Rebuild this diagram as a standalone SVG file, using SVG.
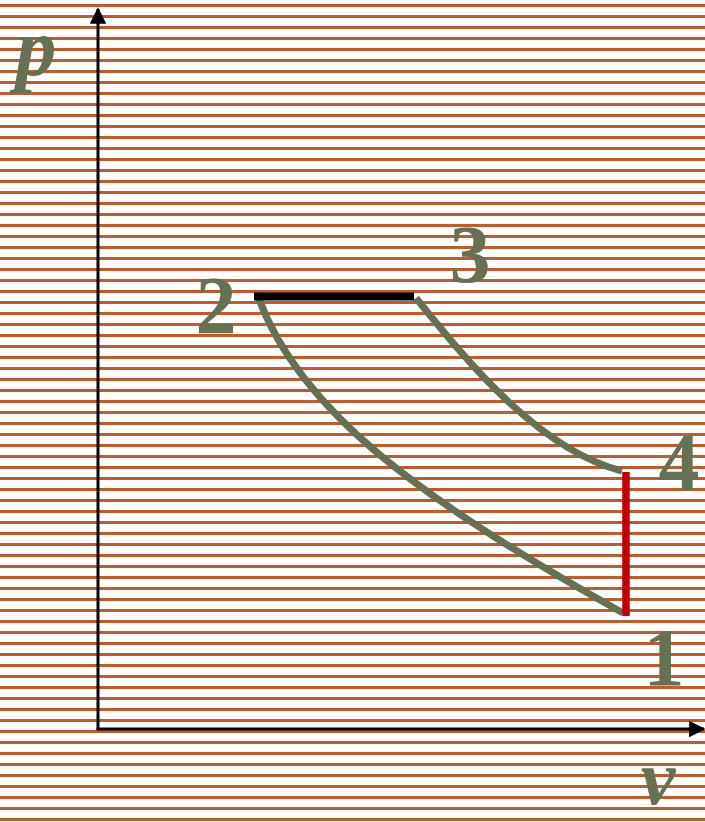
<svg xmlns="http://www.w3.org/2000/svg" width="705" height="822" viewBox="0 0 705 822">
<defs>
<pattern id="stripes" x="0" y="4" width="705" height="11" patternUnits="userSpaceOnUse">
<rect x="0" y="0" width="705" height="3" fill="#C45A2A"/>
</pattern>
<marker id="arr" viewBox="0 0 10 10" refX="9" refY="5" markerWidth="6" markerHeight="5.5" orient="auto" markerUnits="strokeWidth">
<path d="M0,0 L10,5 L0,10 z" fill="#000"/>
</marker>
<style>
.lbl{font-family:"Liberation Serif","Times New Roman",serif;font-weight:bold;fill:#667052;font-size:82px;text-anchor:middle}
.it{font-style:italic}
.curve{fill:none;stroke:#667052;stroke-width:7}
</style>
</defs>
<rect width="705" height="822" fill="#fff"/>
<rect width="705" height="822" fill="url(#stripes)"/>
<g id="connectors">
<line x1="98" y1="730" x2="98" y2="9" stroke="#000" stroke-width="3" marker-end="url(#arr)"/>
<line x1="96.5" y1="729" x2="704" y2="729" stroke="#000" stroke-width="3" marker-end="url(#arr)"/>
<path class="curve" d="M259,299 C300,410 420,500 623,613"/>
<path class="curve" d="M416,298 C470,365 540,450 622,471"/>
<line x1="254" y1="296.5" x2="414" y2="296.5" stroke="#000" stroke-width="8"/>
<line x1="626" y1="472" x2="626" y2="616" stroke="#C00000" stroke-width="7.5"/>
</g>
<g id="label-p"><text class="lbl it" x="36" y="75">p</text></g>
<g id="label-v"><text class="lbl it" x="658" y="804" style="font-size:78px">v</text></g>
<g id="node-2"><text class="lbl" x="216" y="333">2</text></g>
<g id="node-3"><text class="lbl" x="470" y="282">3</text></g>
<g id="node-4"><text class="lbl" x="679" y="490">4</text></g>
<g id="node-1"><text class="lbl" x="664" y="685">1</text></g>
</svg>
